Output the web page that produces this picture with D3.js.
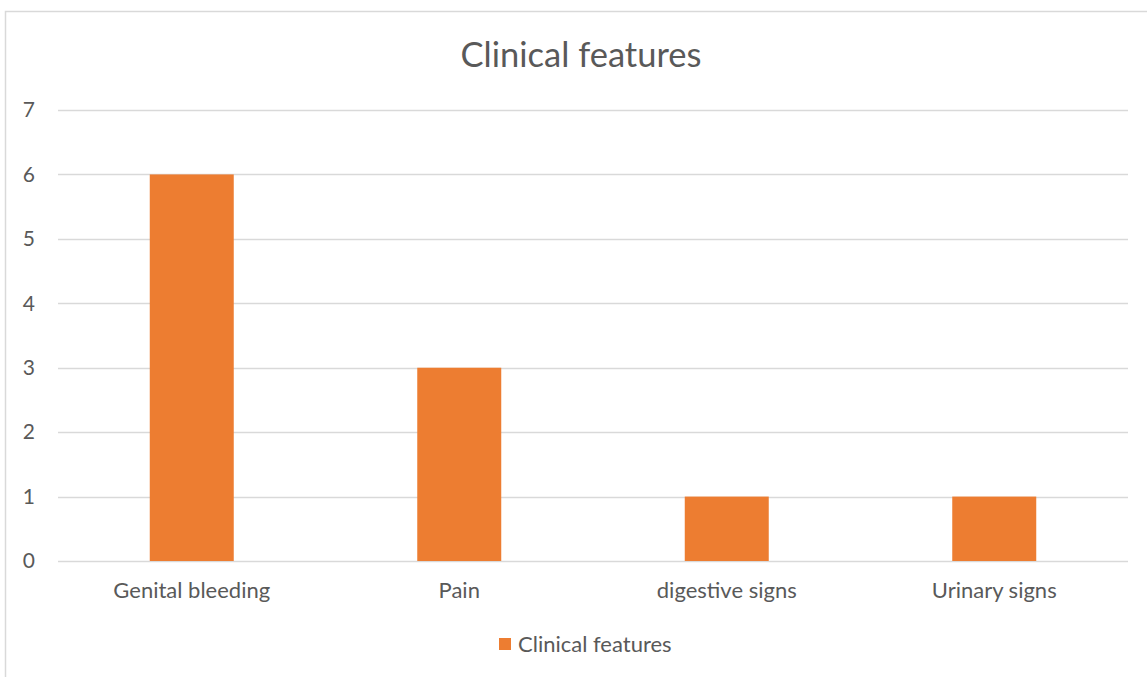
<!DOCTYPE html>
<html>
<head>
<meta charset="utf-8">
<script src="https://cdn.jsdelivr.net/npm/d3@7/dist/d3.min.js"></script>
<style>
  html, body { margin: 0; padding: 0; background: #fff; }
  svg { display: block; }
  text { font-family: Lato, "Open Sans", sans-serif; fill: #595959; }
</style>
</head>
<body>
<svg id="chart" width="1147" height="677"></svg>
<script>
// Chart data
const categories = ["Genital bleeding", "Pain", "digestive signs", "Urinary signs"];
const values = [6, 3, 1, 1];
const yTicks = [0, 1, 2, 3, 4, 5, 6, 7];
const seriesName = "Clinical features";
const chartTitle = "Clinical features";

const W = 1147, H = 677;
const svg = d3.select("#chart");

// Outer chart frame
svg.append("rect")
  .attr("x", 5.5).attr("y", 11.5)
  .attr("width", W + 10).attr("height", H + 10)
  .attr("fill", "#fff").attr("stroke", "#d9d9d9").attr("stroke-width", 1.5);

const plot = { left: 58, right: 1128, top: 110, bottom: 561 };

const x = d3.scaleBand()
  .domain(categories)
  .range([plot.left, plot.right])
  .paddingInner(0.686).paddingOuter(0.343);

const y = d3.scaleLinear()
  .domain([0, 7])
  .range([plot.bottom, plot.top]);

// Gridlines
svg.append("g")
  .selectAll("line")
  .data(yTicks)
  .join("line")
  .attr("x1", plot.left).attr("x2", plot.right)
  .attr("y1", d => Math.round(y(d)) + 0.5).attr("y2", d => Math.round(y(d)) + 0.5)
  .attr("stroke", "#d9d9d9").attr("stroke-width", 1.5);

// Y axis labels
const yAxis = d3.axisLeft(y).tickValues(yTicks).tickFormat(d3.format("d")).tickSize(0).tickPadding(0);
const yg = svg.append("g").attr("transform", `translate(35,0)`).call(yAxis);
yg.select(".domain").remove();
yg.selectAll("text").style("font-size", "21px").attr("fill", "#595959");

// Bars
svg.append("g")
  .selectAll("rect")
  .data(values)
  .join("rect")
  .attr("x", (d, i) => x(categories[i]))
  .attr("width", x.bandwidth())
  .attr("y", d => y(d))
  .attr("height", d => y(0) - y(d))
  .attr("fill", "#ED7D31");

// X axis labels
const xAxis = d3.axisBottom(x).tickSize(0).tickPadding(0);
const xg = svg.append("g").attr("transform", `translate(0,582)`).call(xAxis);
xg.select(".domain").remove();
xg.selectAll("text").style("font-size", "22px").attr("fill", "#595959");

// Title
svg.append("text")
  .attr("x", (plot.left + plot.right) / 2 - 12)
  .attr("y", 67)
  .attr("text-anchor", "middle")
  .style("font-size", "34.5px")
  .text(chartTitle);

// Legend
const lg = svg.append("g").attr("transform", "translate(499,638)");
lg.append("rect").attr("width", 12).attr("height", 12).attr("fill", "#ED7D31");
lg.append("text").attr("x", 19).attr("y", 14).style("font-size", "22px").text(seriesName);
</script>
</body>
</html>
